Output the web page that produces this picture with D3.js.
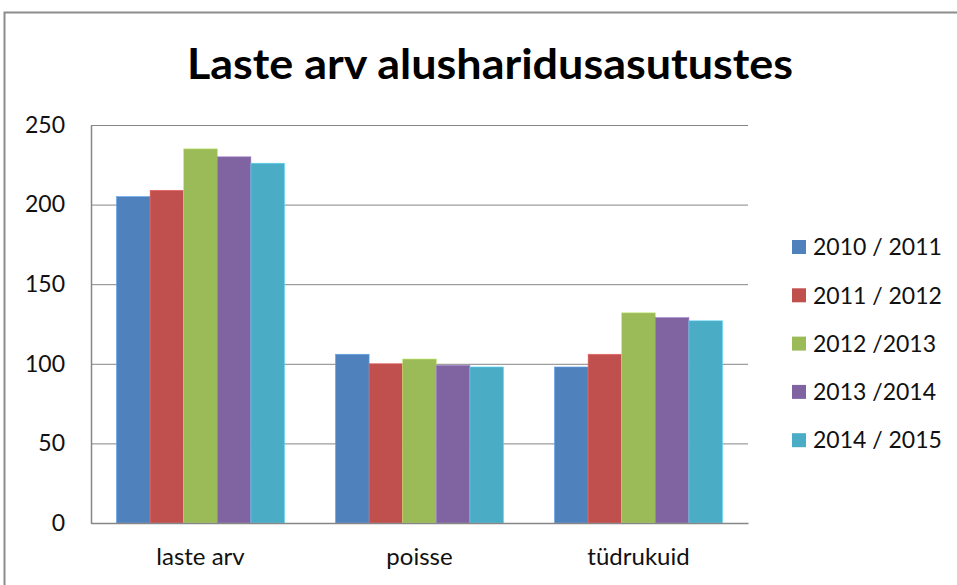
<!DOCTYPE html>
<html>
<head>
<meta charset="utf-8">
<script src="https://cdn.jsdelivr.net/npm/d3@7"></script>
<style>
  body { margin: 0; background: #fff; }
  svg { display: block; font-family: Lato, "Open Sans", sans-serif; }
</style>
</head>
<body>
<div id="chart"></div>
<script>
// Data
const categories = ["laste arv", "poisse", "tüdrukuid"];
const seriesNames = ["2010 / 2011", "2011 / 2012", "2012 /2013", "2013 /2014", "2014 / 2015"];
const s2010 = [205, 106, 98];
const s2011 = [209, 100, 106];
const s2012 = [235, 103, 132];
const s2013 = [230, 99, 129];
const s2014 = [226, 98, 127];
const seriesColors = ["#4F81BD", "#C0504D", "#9BBB59", "#8064A2", "#4BACC6"];
const yTicks = [0, 50, 100, 150, 200, 250];

const seriesValues = [s2010, s2011, s2012, s2013, s2014];
const data = categories.map((c, i) => ({
    category: c,
    values: seriesNames.map((s, j) => ({ series: s, value: seriesValues[j][i] }))
}));

const width = 957, height = 585;
const margin = { top: 125, right: 209, bottom: 62, left: 91 };
const innerW = width - margin.left - margin.right;
const innerH = height - margin.top - margin.bottom;

const svg = d3.select("#chart").append("svg")
    .attr("width", width)
    .attr("height", height);

// Outer chart border
svg.append("rect")
    .attr("x", 4.5).attr("y", 12.5)
    .attr("width", 1000).attr("height", 700)
    .attr("fill", "none")
    .attr("stroke", "#8c8c8c")
    .attr("stroke-width", 2);

// Title
svg.append("text")
    .attr("x", 490).attr("y", 79)
    .attr("text-anchor", "middle")
    .attr("font-size", 42)
    .attr("font-weight", "bold")
    .attr("fill", "#000")
    .attr("textLength", 606)
    .attr("lengthAdjust", "spacingAndGlyphs")
    .text("Laste arv alusharidusasutustes");

const g = svg.append("g").attr("transform", `translate(${margin.left},${margin.top})`);

// Scales
const x0 = d3.scaleBand().domain(categories).range([0, innerW]).paddingInner(0.233).paddingOuter(0.1165);
const x1 = d3.scaleBand().domain(seriesNames).range([0, x0.bandwidth()]);
const y = d3.scaleLinear().domain([0, 250]).range([innerH, 0]);
const color = d3.scaleOrdinal().domain(seriesNames).range(seriesColors);

// Horizontal gridlines
g.append("g")
    .call(d3.axisLeft(y).tickValues(yTicks).tickSize(-innerW).tickFormat(""))
    .call(ax => ax.select(".domain").remove())
    .selectAll("line")
    .attr("stroke", "#868686")
    .attr("stroke-width", 1);

// Bars
g.append("g").selectAll("g")
    .data(data)
    .join("g")
    .attr("transform", d => `translate(${x0(d.category)},0)`)
    .selectAll("rect")
    .data(d => d.values)
    .join("rect")
    .attr("x", d => x1(d.series))
    .attr("y", d => y(d.value))
    .attr("width", x1.bandwidth())
    .attr("height", d => innerH - y(d.value))
    .attr("fill", d => color(d.series))
    .attr("stroke", d => d3.color(color(d.series)).brighter(0.6))
    .attr("stroke-width", 0.6);

// Y axis
const yAxis = g.append("g")
    .call(d3.axisLeft(y).tickValues(yTicks).tickSize(0).tickPadding(26));
yAxis.select(".domain").attr("stroke", "#868686").attr("stroke-width", 1.5);
yAxis.selectAll("text")
    .attr("font-size", 23)
    .attr("font-family", "Lato, sans-serif")
    .attr("fill", "#111");

// X axis
const xAxis = g.append("g")
    .attr("transform", `translate(0,${innerH})`)
    .call(d3.axisBottom(x0).tickSize(0).tickPadding(25));
xAxis.select(".domain").attr("stroke", "#868686").attr("stroke-width", 1.5);
xAxis.selectAll("text")
    .attr("font-size", 24)
    .attr("font-family", "Lato, sans-serif")
    .attr("fill", "#111");

// Legend
const legend = svg.append("g").attr("transform", "translate(792,247)");
const row = legend.selectAll("g")
    .data(seriesNames)
    .join("g")
    .attr("transform", (d, i) => `translate(0,${i * 48.3})`);
row.append("rect")
    .attr("x", 0).attr("y", -7)
    .attr("width", 14).attr("height", 14)
    .attr("fill", d => color(d));
row.append("text")
    .attr("x", 21).attr("y", 0)
    .attr("dy", "0.36em")
    .attr("font-size", 23)
    .attr("fill", "#111")
    .text(d => d);
</script>
</body>
</html>
